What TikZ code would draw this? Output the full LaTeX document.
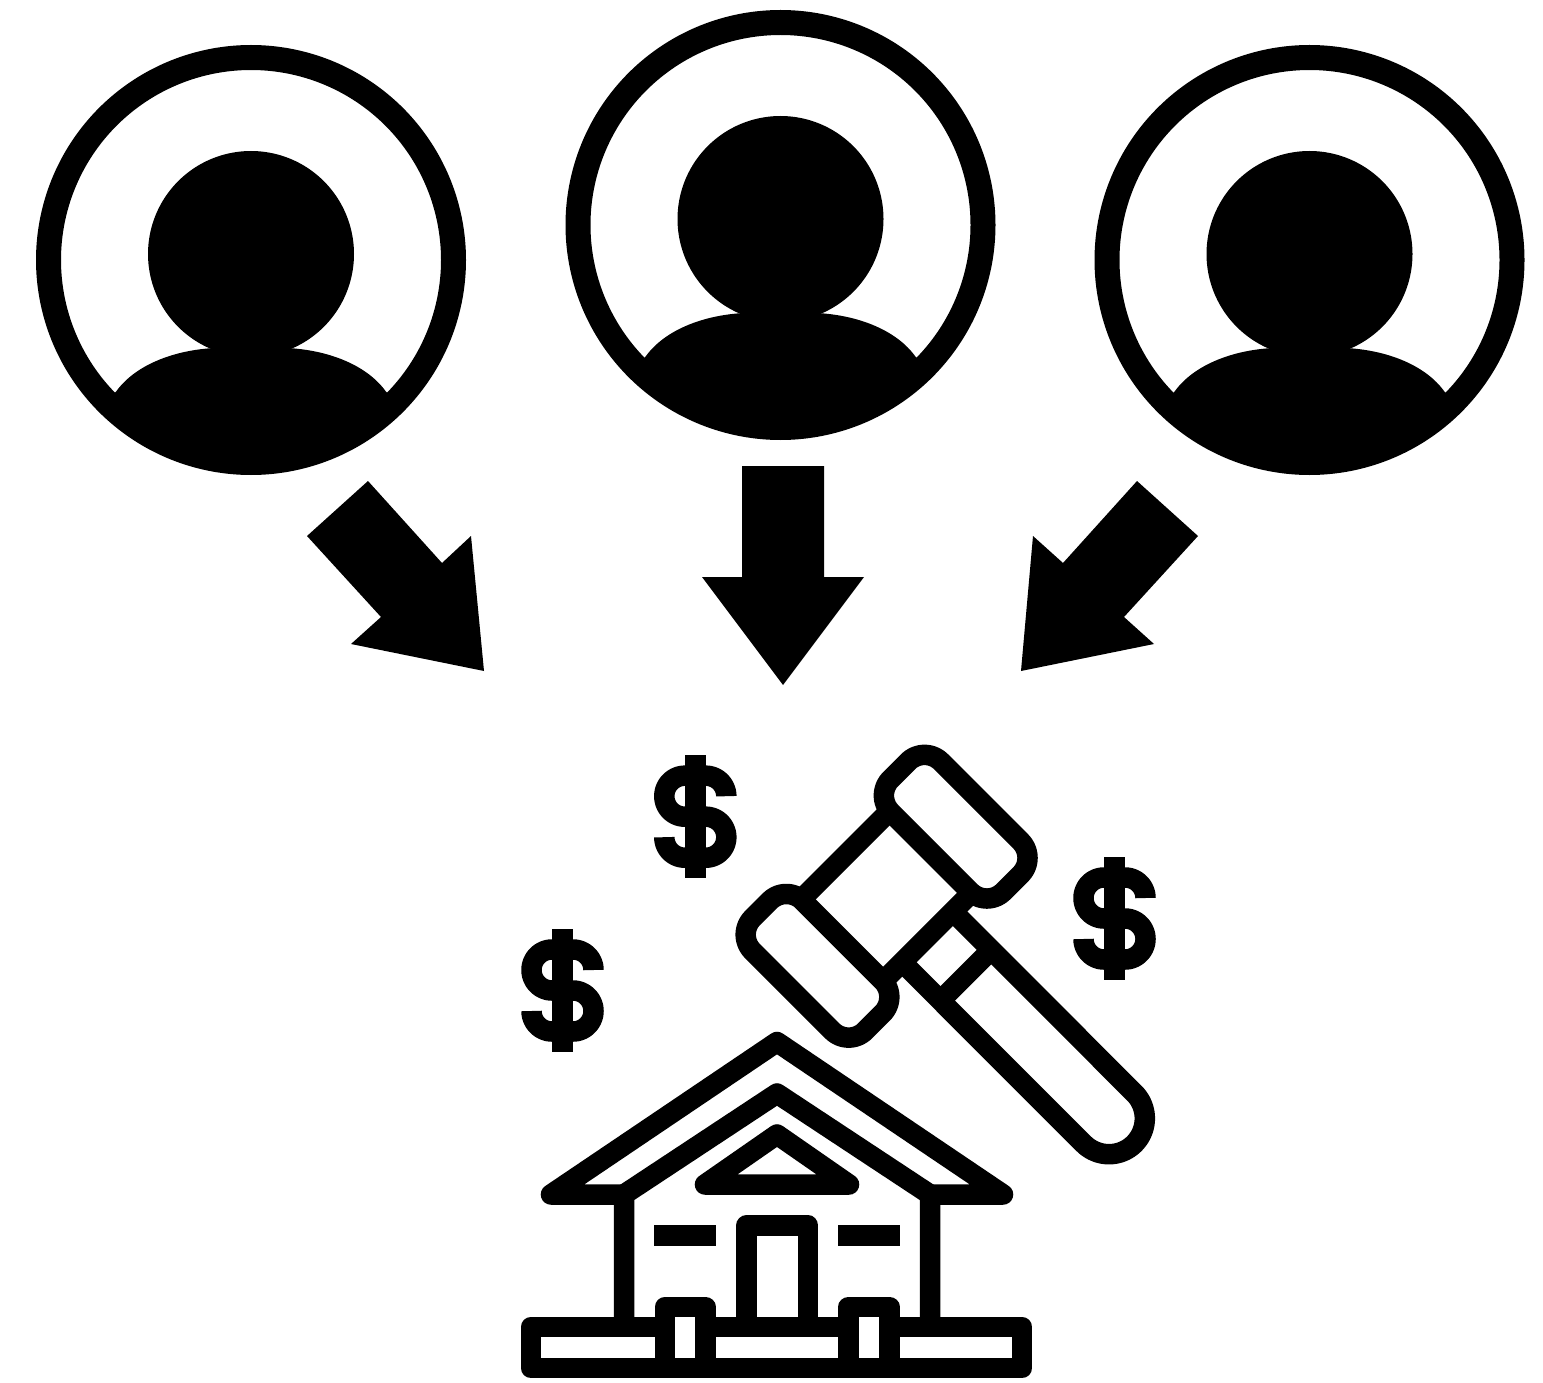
\documentclass[tikz,border=0pt]{standalone}
\tikzset{
  ink/.style={line width=20.5pt,line join=round,draw=black},
  inkround/.style={ink,line cap=round},
  ringline/.style={line width=25pt,line join=round,draw=black},
  blockarrow/.style={fill=black}
}
\newcommand{\personicon}[2]{%
  \begin{scope}[shift={(#1,#2)}]
    \draw[ringline] plot[domain=0:360,samples=361] ({202.5*cos(\x)},{202.5*sin(\x)}) -- cycle;
    \fill plot[domain=0:360,samples=241] ({103*cos(\x)},{-6+103*sin(\x)}) -- cycle;
    \begin{scope}
      \clip plot[domain=0:360,samples=241] ({200*cos(\x)},{200*sin(\x)}) -- cycle;
      \fill plot[domain=0:1,samples=41] ({-135*(1-\x)^3-348*(1-\x)^2*\x-234*(1-\x)*\x^2-41*\x^3},{131.7*(1-\x)^3+315*(1-\x)^2*\x+273*(1-\x)*\x^2+88.3*\x^3})
        -- plot[domain=1:0,samples=41] ({135*(1-\x)^3+348*(1-\x)^2*\x+234*(1-\x)*\x^2+41*\x^3},{131.7*(1-\x)^3+315*(1-\x)^2*\x+273*(1-\x)*\x^2+88.3*\x^3})
        -- (210,210) -- (-210,210) -- cycle;
    \end{scope}
  \end{scope}}
\newcommand{\dollaricon}[2]{%
  \begin{scope}[shift={(#1,#2)}]
    \fill (-10.5,-61.3) rectangle (10.5,61.3);
    \draw[ink] plot[domain=0:-90,samples=31] ({10.5+20.5*cos(\x)},{-20.5+20.5*sin(\x)})
      -- plot[domain=-90:-270,samples=61] ({-10.5+20.5*cos(\x)},{-20.5+20.5*sin(\x)})
      -- plot[domain=-90:90,samples=61] ({10.5+20.5*cos(\x)},{20.5+20.5*sin(\x)})
      -- plot[domain=90:180,samples=31] ({-10.5+20.5*cos(\x)},{20.5+20.5*sin(\x)});
  \end{scope}}
\newcommand{\gavelhead}[2]{%
  \begin{scope}[shift={(#1,#2)},rotate=-45]
    \draw[ink] plot[domain=-90:0,samples=31] ({56.35+23.3*cos(\x)},{-12.25+23.3*sin(\x)})
      -- plot[domain=0:90,samples=31] ({56.35+23.3*cos(\x)},{12.25+23.3*sin(\x)})
      -- plot[domain=90:180,samples=31] ({-56.35+23.3*cos(\x)},{12.25+23.3*sin(\x)})
      -- plot[domain=180:270,samples=31] ({-56.35+23.3*cos(\x)},{-12.25+23.3*sin(\x)})
      -- cycle;
  \end{scope}}
\begin{document}
\begin{tikzpicture}[x=1pt,y=-1pt]
\useasboundingbox (0,0) rectangle (1543,1383);
\fill[white] (0,0) rectangle (1543,1383);
% people
\personicon{251}{260}
\personicon{780.5}{225}
\personicon{1309.5}{260}
% arrows
\fill[blockarrow] (368,481) -- (442,563) -- (471,536) -- (484,671) -- (351,644) -- (381,617) -- (307,536) -- cycle;
\fill[blockarrow] (742,466) -- (824,466) -- (824,577) -- (864,577) -- (783,685) -- (702,577) -- (742,577) -- cycle;
\fill[blockarrow] (1137,481) -- (1198,536) -- (1124,617) -- (1154,644) -- (1021,671) -- (1033,536) -- (1063,563) -- cycle;
% dollars
\dollaricon{695.3}{816.7}
\dollaricon{1114.5}{918.5}
\dollaricon{562.5}{990.5}
% gavel
\gavelhead{955.7}{826.7}
\gavelhead{817.5}{965.8}
\draw[ink] (889.7,811) -- (801,899.7);
\draw[ink] (971.5,892.8) -- (882.8,981.5);
\draw[ink] (991.2,949.8) -- (940.5,1000.5);
\draw[ink] (952.8,911.5) -- plot[domain=-45:135,samples=91] ({1109+35.8*cos(\x)},{1118.4+35.8*sin(\x)}) -- (902.2,962.2);
% house roof and walls
\draw[inkround] (624,1194.5) -- (551,1194.5) -- (777,1042) -- (1003,1194.5) -- (930,1194.5);
\draw[ink] (624,1327) -- (624,1194.5) -- (777,1093.5) -- (930,1194.5) -- (930,1327);
\draw[ink] (705,1184.5) -- (777,1134.5) -- (849,1184.5) -- cycle;
\fill (654,1225) rectangle (716,1246);
\fill (838,1225) rectangle (900,1246);
\draw[ink] (746.5,1327) -- (746.5,1225.5) -- (808,1225.5) -- (808,1327);
% base and posts
\draw[ink] (665,1327) -- (531,1327) -- (531,1368) -- (1022,1368) -- (1022,1327) -- (889.5,1327);
\draw[ink] (705.5,1327) -- (848.5,1327);
\draw[ink] (665,1368) -- (665,1307) -- (705.5,1307) -- (705.5,1368);
\draw[ink] (848.5,1368) -- (848.5,1307) -- (889.5,1307) -- (889.5,1368);
\end{tikzpicture}
\end{document}
